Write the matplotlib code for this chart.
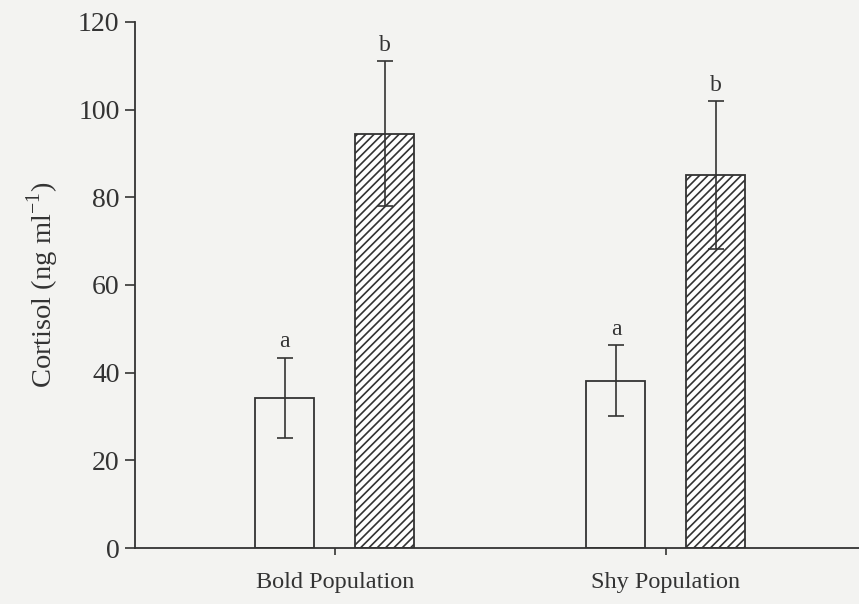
import numpy as np
import matplotlib
matplotlib.use('Agg')
import matplotlib.pyplot as plt

groups = ['Bold Population', 'Shy Population']
control = [34.2, 38.1]
control_err = [9.1, 8.1]
stressed = [94.5, 85.1]
stressed_err = [16.5, 16.8]
control_letters = ['a', 'a']
stressed_letters = ['b', 'b']

plt.rcParams['font.family'] = ['Liberation Serif', 'DejaVu Serif']
plt.rcParams['hatch.linewidth'] = 1.2
plt.rcParams['hatch.color'] = '#333333'

bg = '#f3f3f1'
fig = plt.figure(figsize=(8.59, 6.04), dpi=100, facecolor=bg)
ax = fig.add_axes([0.157, 0.0927, 0.843, 0.871])
ax.set_facecolor(bg)

x = np.arange(len(groups))
w = 0.178
off = 0.151
ekw = dict(ecolor='#333333', elinewidth=1.2, capsize=6, capthick=1.2)

ax.bar(x - off, control, w, color=bg, edgecolor='#333333', linewidth=1.3,
       yerr=control_err, error_kw=ekw, zorder=2)
ax.bar(x + off, stressed, w, color='white', edgecolor='#333333', linewidth=1.3,
       hatch='////', yerr=stressed_err, error_kw=ekw, zorder=2)

for i in range(len(groups)):
    ax.text(x[i] - off, control[i] + control_err[i] + 1.3, control_letters[i],
            ha='center', va='bottom', fontsize=17, color='#333333')
    ax.text(x[i] + off, stressed[i] + stressed_err[i] + 1.3, stressed_letters[i],
            ha='center', va='bottom', fontsize=17, color='#333333')

ax.set_ylim(0, 120)
ax.set_yticks(np.arange(0, 121, 20))
ax.set_xlim(-0.604, 1.583)
ax.set_xticks(x)
ax.set_xticklabels(groups, fontsize=17.5, color='#333333')
ax.tick_params(axis='y', labelsize=20, direction='out', length=7, width=1.2,
               colors='#333333', pad=4)
ax.tick_params(axis='x', direction='out', length=5, width=1.2, colors='#333333',
               pad=12)
ax.set_ylabel('Cortisol (ng ml$^{\\mathregular{-1}}$)', fontsize=20.5,
              color='#333333', labelpad=12)

for s in ['top', 'right']:
    ax.spines[s].set_visible(False)
for s in ['left', 'bottom']:
    ax.spines[s].set_linewidth(1.3)
    ax.spines[s].set_color('#333333')

fig.savefig('out.png', dpi=100, facecolor=bg)
